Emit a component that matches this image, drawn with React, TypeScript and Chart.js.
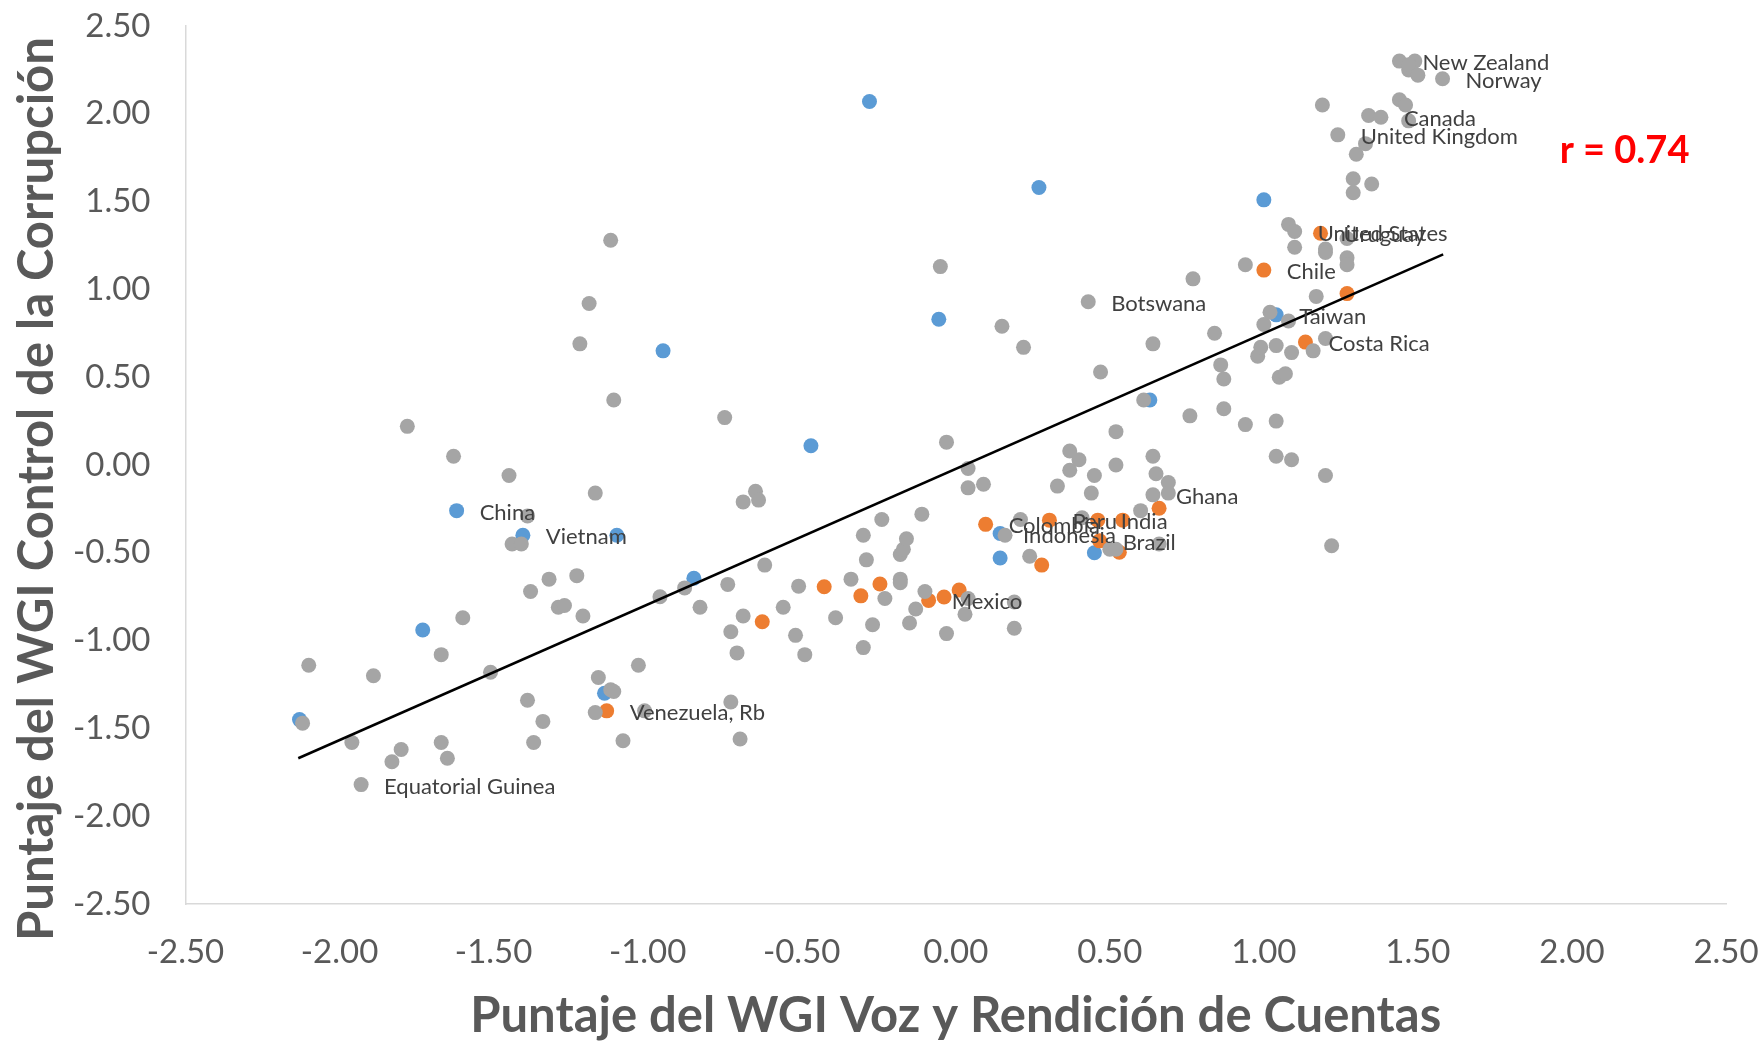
import React, { useEffect, useRef } from 'react';
import { Chart, registerables } from 'chart.js';

Chart.register(...registerables);

type Pt = [number, number, string?];

// Other countries (gray)
const grayPoints: Pt[] = [
  [-2.10, -1.14], [-2.12, -1.47], [-1.96, -1.58], [-1.89, -1.20], [-1.93, -1.82, 'Equatorial Guinea'],
  [-1.83, -1.69], [-1.80, -1.62], [-1.78, 0.22], [-1.67, -1.08], [-1.67, -1.58], [-1.65, -1.67],
  [-1.63, 0.05], [-1.60, -0.87], [-1.51, -1.18], [-1.45, -0.06], [-1.44, -0.45], [-1.41, -0.45],
  [-1.39, -0.29], [-1.38, -0.72], [-1.39, -1.34], [-1.37, -1.58], [-1.34, -1.46], [-1.32, -0.65],
  [-1.29, -0.81], [-1.27, -0.80], [-1.23, -0.63], [-1.22, 0.69], [-1.21, -0.86], [-1.19, 0.92],
  [-1.17, -0.16], [-1.16, -1.21], [-1.17, -1.41], [-1.12, -1.28], [-1.11, -1.29], [-1.12, 1.28],
  [-1.11, 0.37], [-1.08, -1.57], [-1.03, -1.14], [-1.01, -1.40], [-0.96, -0.75], [-0.88, -0.70],
  [-0.83, -0.81], [-0.75, 0.27], [-0.74, -0.68], [-0.73, -0.95], [-0.73, -1.35], [-0.71, -1.07],
  [-0.70, -1.56], [-0.69, -0.21], [-0.69, -0.86], [-0.65, -0.15], [-0.64, -0.20], [-0.62, -0.57],
  [-0.56, -0.81], [-0.52, -0.97], [-0.51, -0.69], [-0.49, -1.08], [-0.39, -0.87], [-0.34, -0.65],
  [-0.30, -0.40], [-0.30, -1.04], [-0.29, -0.54], [-0.27, -0.91], [-0.24, -0.31], [-0.23, -0.76],
  [-0.18, -0.65], [-0.18, -0.67], [-0.18, -0.51], [-0.17, -0.48], [-0.16, -0.42], [-0.15, -0.90],
  [-0.13, -0.82], [-0.11, -0.28], [-0.10, -0.72], [-0.05, 1.13], [-0.03, -0.96], [-0.03, 0.13],
  [0.03, -0.85], [0.04, -0.02], [0.04, -0.76], [0.04, -0.13], [0.09, -0.11], [0.15, 0.79],
  [0.16, -0.40], [0.19, -0.78], [0.19, -0.93], [0.21, -0.31], [0.22, 0.67], [0.24, -0.52],
  [0.33, -0.12], [0.37, 0.08], [0.37, -0.03], [0.40, 0.03], [0.41, -0.30], [0.43, 0.93, 'Botswana'],
  [0.44, -0.16], [0.45, -0.06], [0.47, 0.53], [0.50, -0.48], [0.52, -0.48], [0.52, 0.00],
  [0.52, 0.19], [0.60, -0.26], [0.61, 0.37], [0.64, 0.05], [0.64, 0.69], [0.65, -0.05],
  [0.64, -0.17, 'Ghana'], [0.69, -0.10], [0.69, -0.16], [0.66, -0.45], [0.76, 0.28], [0.77, 1.06],
  [0.84, 0.75], [0.86, 0.57], [0.87, 0.32], [0.87, 0.49], [0.94, 1.14], [0.94, 0.23],
  [0.98, 0.62], [0.99, 0.67], [1.00, 0.80], [1.02, 0.87], [1.04, 0.25], [1.04, 0.05],
  [1.04, 0.68], [1.05, 0.50], [1.07, 0.52], [1.08, 1.37], [1.08, 0.82], [1.09, 0.64],
  [1.09, 0.03], [1.10, 1.33, 'United States'], [1.10, 1.24], [1.16, 0.65], [1.17, 0.96], [1.19, 2.05],
  [1.20, 1.23], [1.20, 1.21], [1.20, 0.72], [1.20, -0.06], [1.22, -0.46], [1.24, 1.88, 'United Kingdom'],
  [1.27, 1.29], [1.27, 1.18], [1.27, 1.14], [1.29, 1.63], [1.29, 1.55], [1.30, 1.77],
  [1.33, 1.83], [1.34, 1.99], [1.35, 1.60], [1.38, 1.98, 'Canada'], [1.44, 2.08], [1.46, 2.05],
  [1.47, 1.96], [1.44, 2.30, 'New Zealand'], [1.49, 2.30], [1.47, 2.25], [1.47, 2.28], [1.50, 2.22],
  [1.58, 2.20, 'Norway'],
];

// Blue group
const bluePoints: Pt[] = [
  [-0.28, 2.07], [0.27, 1.58], [1.00, 1.51], [-0.055, 0.83], [-0.95, 0.65], [-0.47, 0.11],
  [-1.62, -0.26, 'China'], [-1.405, -0.40, 'Vietnam'], [-1.10, -0.40], [-0.85, -0.645], [-1.73, -0.94],
  [-2.13, -1.45], [-1.14, -1.30], [0.63, 0.37], [0.144, -0.39, 'Indonesia'], [0.144, -0.53],
  [0.45, -0.50], [1.04, 0.855, 'Taiwan'],
];

// Orange group
const orangePoints: Pt[] = [
  [1.184, 1.32, 'Uruguay'], [1.00, 1.11, 'Chile'], [1.27, 0.976], [1.135, 0.70, 'Costa Rica'],
  [0.66, -0.246], [0.097, -0.338, 'Colombia'], [0.304, -0.314, 'Peru'], [0.461, -0.314, 'India'],
  [0.542, -0.314], [0.467, -0.432, 'Brazil'], [0.531, -0.497], [0.279, -0.57], [-0.427, -0.693],
  [-0.308, -0.745], [-0.246, -0.678], [-0.088, -0.771, 'Mexico'], [-0.038, -0.752], [0.011, -0.712],
  [-0.628, -0.893], [-1.133, -1.40, 'Venezuela, Rb'],
];

// Trend line end points
const trendX = [-2.134, 1.582];
const trendY = [-1.670, 1.199];

const axisMin = -2.5;
const axisMax = 2.5;
const axisStep = 0.5;

const xTitle = 'Puntaje del WGI Voz y Rendición de Cuentas';
const yTitle = 'Puntaje del WGI Control de la Corrupción';
const rText = 'r = 0.74';
const rPos = [1.96, 1.79];

const FONT = 'Lato';
const GRAY = '#595959';

const toXY = (pts: Pt[]) => pts.map((p) => ({ x: p[0], y: p[1] }));

export default function App() {
  const ref = useRef<HTMLCanvasElement | null>(null);

  useEffect(() => {
    if (!ref.current) return;
    const groups: Pt[][] = [[], grayPoints, orangePoints, bluePoints];

    const labelPlugin = {
      id: 'extraText',
      afterDatasetsDraw(chart: any) {
        const ctx = chart.ctx;
        ctx.save();
        ctx.font = `22px ${FONT}`;
        ctx.fillStyle = '#404040';
        ctx.textBaseline = 'middle';
        ctx.textAlign = 'left';
        groups.forEach((pts, di) => {
          const meta = chart.getDatasetMeta(di);
          pts.forEach((p, i) => {
            const el = meta.data[i];
            if (p[2] && el) ctx.fillText(p[2], el.x + 23, el.y + 2);
          });
        });
        const xs = chart.scales.x;
        const ys = chart.scales.y;
        ctx.font = `bold 38px ${FONT}`;
        ctx.fillStyle = '#FF0000';
        ctx.fillText(rText, xs.getPixelForValue(rPos[0]), ys.getPixelForValue(rPos[1]));
        // y axis title
        const ca = chart.chartArea;
        ctx.font = `bold 49px ${FONT}`;
        ctx.fillStyle = GRAY;
        ctx.textAlign = 'center';
        ctx.translate(37, (ca.top + ca.bottom) / 2 + 24);
        ctx.rotate(-Math.PI / 2);
        ctx.fillText(yTitle, 0, 0);
        ctx.restore();
      },
    };

    const pointDs = (pts: Pt[], color: string) => ({
      type: 'scatter' as const,
      data: toXY(pts),
      backgroundColor: color,
      borderWidth: 0,
      pointRadius: 7.5,
      pointHoverRadius: 7.5,
    });

    const chart = new Chart(ref.current, {
      type: 'scatter',
      data: {
        datasets: [
          {
            type: 'line',
            data: trendX.map((x, i) => ({ x, y: trendY[i] })),
            borderColor: '#000000',
            borderWidth: 2.5,
            pointRadius: 0,
            showLine: true,
            fill: false,
          } as any,
          pointDs(grayPoints, '#A5A5A5'),
          pointDs(orangePoints, '#ED7D31'),
          pointDs(bluePoints, '#5B9BD5'),
        ],
      },
      options: {
        responsive: false,
        animation: false,
        devicePixelRatio: 1,
        layout: { padding: { left: 0, top: 26, right: 37, bottom: 0 } },
        plugins: { legend: { display: false }, tooltip: { enabled: false } },
        events: [],
        scales: {
          x: {
            type: 'linear',
            min: axisMin,
            max: axisMax,
            ticks: {
              stepSize: axisStep,
              padding: 29,
              color: GRAY,
              font: { family: FONT, size: 33 },
              maxRotation: 0,
              autoSkip: false,
              callback: (v: any) => Number(v).toFixed(2),
            },
            grid: { display: false, drawTicks: false },
            border: { display: true, color: '#D9D9D9', width: 1.5 },
            title: {
              display: true,
              text: xTitle,
              color: GRAY,
              font: { family: FONT, size: 49, weight: 'bold', lineHeight: 1 },
              padding: { top: 0, bottom: 0 },
            },
            afterFit: (s: any) => {
              s.height = 137;
              s.paddingLeft = 0;
              s.paddingRight = 0;
              s.paddingTop = 0;
              s.paddingBottom = 0;
            },
          },
          y: {
            type: 'linear',
            min: axisMin,
            max: axisMax,
            ticks: {
              stepSize: axisStep,
              padding: 35,
              color: GRAY,
              font: { family: FONT, size: 33 },
              callback: (v: any) => Number(v).toFixed(2),
            },
            grid: { display: false, drawTicks: false },
            border: { display: true, color: '#D9D9D9', width: 1.5 },
            afterFit: (s: any) => {
              s.width = 185.5;
              s.paddingLeft = 0;
              s.paddingRight = 0;
              s.paddingTop = 0;
              s.paddingBottom = 0;
            },
          },
        },
      } as any,
      plugins: [labelPlugin],
    });
    return () => chart.destroy();
  }, []);

  return (
    <div style={{ position: 'absolute', left: 0, top: 0, width: 1763, height: 1041, background: '#fff' }}>
      <canvas ref={ref} width={1763} height={1041} style={{ display: 'block' }} />
    </div>
  );
}
